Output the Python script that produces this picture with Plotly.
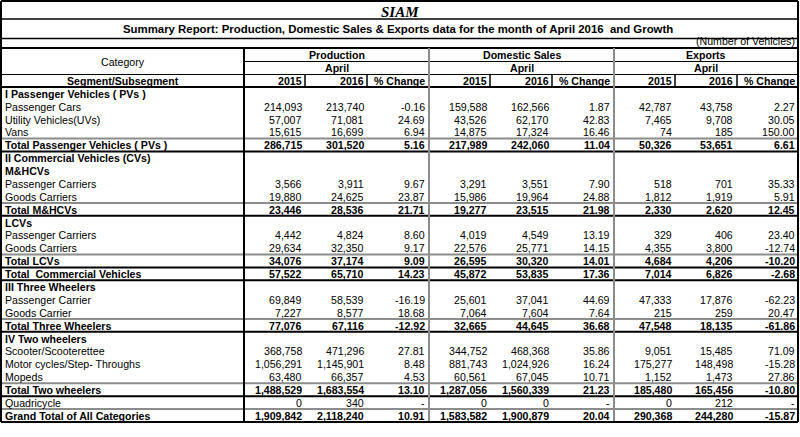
import plotly.graph_objects as go

# ---------------- data ----------------
labels = ["I Passenger Vehicles ( PVs )", "Passenger Cars", "Utility Vehicles(UVs)", "Vans",
          "Total Passenger Vehicles ( PVs )", "II Commercial Vehicles (CVs)", "M&HCVs",
          "Passenger Carriers", "Goods Carriers", "Total M&HCVs", "LCVs", "Passenger Carriers",
          "Goods Carriers", "Total LCVs", "Total\u00a0 Commercial Vehicles", "III Three Wheelers",
          "Passenger Carrier", "Goods Carrier", "Total Three Wheelers", "IV Two wheelers",
          "Scooter/Scooterettee", "Motor cycles/Step- Throughs", "Mopeds", "Total Two wheelers",
          "Quadricycle", "Grand Total of All Categories"]
row_kind = ["sec", "item", "item", "item", "total", "sec", "sec", "item", "item", "total", "sec",
            "item", "item", "total", "total", "sec", "item", "item", "total", "sec", "item",
            "item", "item", "total", "item", "total"]

prod_2015 = [None, 214093, 57007, 15615, 286715, None, None, 3566, 19880, 23446, None, 4442, 29634,
             34076, 57522, None, 69849, 7227, 77076, None, 368758, 1056291, 63480, 1488529, 0, 1909842]
prod_2016 = [None, 213740, 71081, 16699, 301520, None, None, 3911, 24625, 28536, None, 4824, 32350,
             37174, 65710, None, 58539, 8577, 67116, None, 471296, 1145901, 66357, 1683554, 340, 2118240]
prod_chg = [None, -0.16, 24.69, 6.94, 5.16, None, None, 9.67, 23.87, 21.71, None, 8.60, 9.17, 9.09,
            14.23, None, -16.19, 18.68, -12.92, None, 27.81, 8.48, 4.53, 13.10, "-", 10.91]
dom_2015 = [None, 159588, 43526, 14875, 217989, None, None, 3291, 15986, 19277, None, 4019, 22576,
            26595, 45872, None, 25601, 7064, 32665, None, 344752, 881743, 60561, 1287056, 0, 1583582]
dom_2016 = [None, 162566, 62170, 17324, 242060, None, None, 3551, 19964, 23515, None, 4549, 25771,
            30320, 53835, None, 37041, 7604, 44645, None, 468368, 1024926, 67045, 1560339, 0, 1900879]
dom_chg = [None, 1.87, 42.83, 16.46, 11.04, None, None, 7.90, 24.88, 21.98, None, 13.19, 14.15, 14.01,
           17.36, None, 44.69, 7.64, 36.68, None, 35.86, 16.24, 10.71, 21.23, "-", 20.04]
exp_2015 = [None, 42787, 7465, 74, 50326, None, None, 518, 1812, 2330, None, 329, 4355, 4684, 7014,
            None, 47333, 215, 47548, None, 9051, 175277, 1152, 185480, 0, 290368]
exp_2016 = [None, 43758, 9708, 185, 53651, None, None, 701, 1919, 2620, None, 406, 3800, 4206, 6826,
            None, 17876, 259, 18135, None, 15485, 148498, 1473, 165456, 212, 244280]
exp_chg = [None, 2.27, 30.05, 150.00, 6.61, None, None, 35.33, 5.91, 12.45, None, 23.40, -12.74,
           -10.20, -2.68, None, -62.23, 20.47, -61.86, None, 71.09, -15.28, 27.86, -10.80, "-", -15.87]

groups = ["Production", "Domestic Sales", "Exports"]
period = "April"
col_heads = ["2015", "2016", "% Change"]
title1 = "SIAM"
title2 = "Summary Report: Production, Domestic Sales & Exports data for the month of April 2016\u00a0 and Growth"
unit_note = "(Number of Vehicles)"

# ---------------- layout geometry ----------------
W, H = 800, 437
FONT = "Liberation Sans, Arial, sans-serif"
FS = 10.6
X_L, X_R = 1, 798
X_CAT = 244
GROUP_X = [(X_CAT, 429), (429, 614), (614, X_R)]
SUB_SEP = [[305, 367], [490, 552], [675, 737]]
VAL_RIGHT = [[303.5, 365.5, 427], [488.5, 550.5, 612], [673.5, 735, 796.5]]
Y_TOP, Y_T1, Y_T2, Y_HDR = 1, 19, 38.5, 48
Y_G, Y_P, Y_D = 61.5, 74.5, 87
Y_BOT = 422
rh = (Y_BOT - Y_D) / len(labels)
DY = 0.3  # vertical text nudge inside cells

fig = go.Figure()
ann = []
shapes = []


def line(x0, y0, x1, y1, color="black", w=1.5):
    shapes.append(dict(type="line", xref="x", yref="y", x0=x0, y0=y0, x1=x1, y1=y1,
                       line=dict(color=color, width=w)))


def text(x, y, s, anchor="left", bold=False, size=FS, family=FONT, italic=False):
    if bold:
        s = "<b>" + s + "</b>"
    if italic:
        s = "<i>" + s + "</i>"
    ann.append(dict(x=x, y=y, xref="x", yref="y", text=s, showarrow=False, xanchor=anchor,
                    yanchor="middle", font=dict(family=family, size=size, color="black")))


# titles
text(400, 11.5, title1, "center", bold=True, italic=True, size=15,
     family="Liberation Serif, Times New Roman, serif")
text(398, 28.5, title2, "center", bold=True, size=11.4)
text(796.5, 41, unit_note, "right", size=FS)

# header
text((X_L + X_CAT) / 2, (Y_HDR + Y_P) / 2 + 0.3, "Category", "center", size=FS)
text((X_L + X_CAT) / 2, (Y_P + Y_D) / 2 + 0.3, "Segment/Subsegment", "center", bold=True)
for gi, g in enumerate(groups):
    a, b = GROUP_X[gi]
    text((a + b) / 2, (Y_HDR + Y_G) / 2 + 0.2, g, "center", bold=True)
    text((a + b) / 2, (Y_G + Y_P) / 2 + 0.3, period, "center", bold=True)
    for ci, c in enumerate(col_heads):
        text(VAL_RIGHT[gi][ci], (Y_P + Y_D) / 2 + 0.3, c, "right", bold=True)

# body
series = [[prod_2015, prod_2016, prod_chg], [dom_2015, dom_2016, dom_chg],
          [exp_2015, exp_2016, exp_chg]]


def fmt(v, chg):
    if v is None:
        return None
    if isinstance(v, str):
        return v
    return f"{v:.2f}" if chg else f"{v:,}"


for i, lab in enumerate(labels):
    yc = Y_D + (i + 0.5) * rh + DY
    bold = row_kind[i] in ("sec", "total")
    text(3, yc, lab.replace("&", "&amp;"), "left", bold=bold)
    for gi in range(3):
        for ci in range(3):
            s = fmt(series[gi][ci][i], ci == 2)
            if s is not None:
                text(VAL_RIGHT[gi][ci], yc, s, "right", bold=row_kind[i] == "total")

# horizontal rules in body
GRAY = "#8c8c8c"
for i, k in enumerate(row_kind):
    if k == "total":
        y0 = Y_D + i * rh
        if i == 0 or row_kind[i - 1] != "total":
            line(X_L, y0, X_R, y0, GRAY, 2)
for i, k in enumerate(row_kind):
    if k == "total":
        y1 = Y_D + (i + 1) * rh
        line(X_L, y1, X_R, y1, "black", 2)

# header rules
line(X_L, Y_T1, X_R, Y_T1, "black", 1.5)
line(X_L, Y_T2, X_R, Y_T2, "black", 1.5)
line(X_L, Y_HDR, X_R, Y_HDR, "black", 2)
line(X_CAT, Y_G, X_R, Y_G, "black", 1.2)
line(X_L, Y_P, X_R, Y_P, "black", 1.2)
line(X_L, Y_D, X_R, Y_D, "black", 2)
for seps in SUB_SEP:
    for sx in seps:
        line(sx, Y_P, sx, Y_D, "black", 1.5)

# vertical rules
line(X_CAT, Y_HDR, X_CAT, Y_BOT, "black", 2)
line(429, Y_HDR, 429, Y_BOT, GRAY, 2)
line(614, Y_HDR, 614, Y_BOT, GRAY, 2)
# outer border
line(X_L, Y_TOP, X_R, Y_TOP, "black", 2)
line(X_L, Y_BOT, X_R, Y_BOT, "black", 2)
line(X_L, Y_TOP, X_L, Y_BOT, "black", 2)
line(X_R, Y_TOP, X_R, Y_BOT, "black", 2)

fig.update_layout(
    width=W, height=H, margin=dict(l=0, r=0, t=0, b=0),
    paper_bgcolor="white", plot_bgcolor="white",
    xaxis=dict(range=[0, W], visible=False, fixedrange=True),
    yaxis=dict(range=[H, 0], visible=False, fixedrange=True),
    annotations=ann, shapes=shapes, showlegend=False,
)
fig.write_html(
    "out.html",
    config={"displayModeBar": False},
    post_script="document.body.style.margin='0';document.body.style.overflow='hidden';",
)
